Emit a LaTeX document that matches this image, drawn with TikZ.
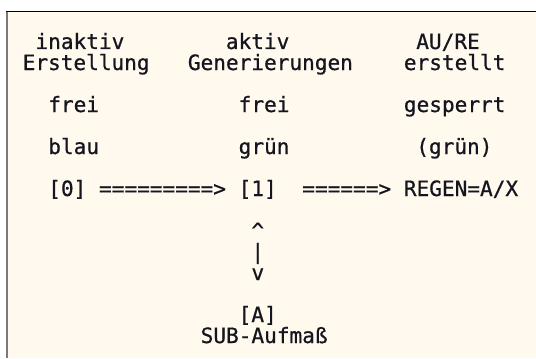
\documentclass[tikz,border=0pt]{standalone}
\usepackage{fontspec}
\usepackage{xcolor}
\usepackage{tikz}
\usetikzlibrary{positioning}
\newfontfamily\premono[FakeBold=0.7]{DejaVu Sans Mono}
\definecolor{prebg}{HTML}{FFF9EE}
\definecolor{preframe}{HTML}{7A7A7A}
\definecolor{preink}{HTML}{15151F}
\tikzset{
  pretext/.style={
    anchor=base west, inner sep=0pt, text=preink,
    font=\premono\fontsize{15}{15}\selectfont
  },
}

\begin{document}
\begin{tikzpicture}
  \useasboundingbox (0,0) rectangle (13.4,-8.95);

  % --- Frame ---
  \fill[prebg] (0.17,-0.29) rectangle (13.4,-8.95);
  \draw[preframe, line width=1.4pt] (0.17,-0.29) -- (0.17,-8.95);
  \draw[black, line width=0.7pt] (0.14,-0.29) -- (13.4,-0.29);

  % --- Column heads ---
  \node[pretext] (inaktiv)  at (0.88,-1.225) {inaktiv};
  \node[pretext] (erst)     at (0.56,-1.75)  {Erstellung};
  \node[pretext] (aktiv)    at (5.64,-1.225) {aktiv};
  \node[pretext] (gen)      at (4.69,-1.75)  {Generierungen};
  \node[pretext] (aure)     at (10.40,-1.225) {AU/RE};
  \node[pretext] (erstellt) at (10.09,-1.75) {erstellt};

  % --- Status rows ---
  \node[pretext] (frei0)    at (1.20,-2.8)  {frei};
  \node[pretext] (frei1)    at (5.96,-2.8)  {frei};
  \node[pretext] (gesperrt) at (10.09,-2.8) {gesperrt};
  \node[pretext] (blau)     at (1.20,-3.85) {blau};
  \node[pretext] (gruen)    at (5.96,-3.85) {grün};
  \node[pretext] (gruenB)   at (10.40,-3.85) {(grün)};

  % --- Transitions ---
  \node[pretext] (st0)   at (1.20,-4.9)  {[0]};
  \node[pretext] (arrA)  at (2.47,-4.9)  {=========>};
  \node[pretext] (st1)   at (5.96,-4.9)  {[1]};
  \node[pretext] (arrB)  at (7.55,-4.9)  {======>};
  \node[pretext] (regen) at (10.09,-4.9) {REGEN=A/X};

  \node[pretext] (up)   at (6.28,-5.95)  {\textasciicircum};
  \node[pretext] (bar)  at (6.28,-6.475) {|};
  \node[pretext] (down) at (6.28,-7.0)   {v};

  \node[pretext] (stA) at (5.96,-8.05)  {[A]};
  \node[pretext] (sub) at (5.01,-8.575) {SUB-Aufmaß};
\end{tikzpicture}
\end{document}
